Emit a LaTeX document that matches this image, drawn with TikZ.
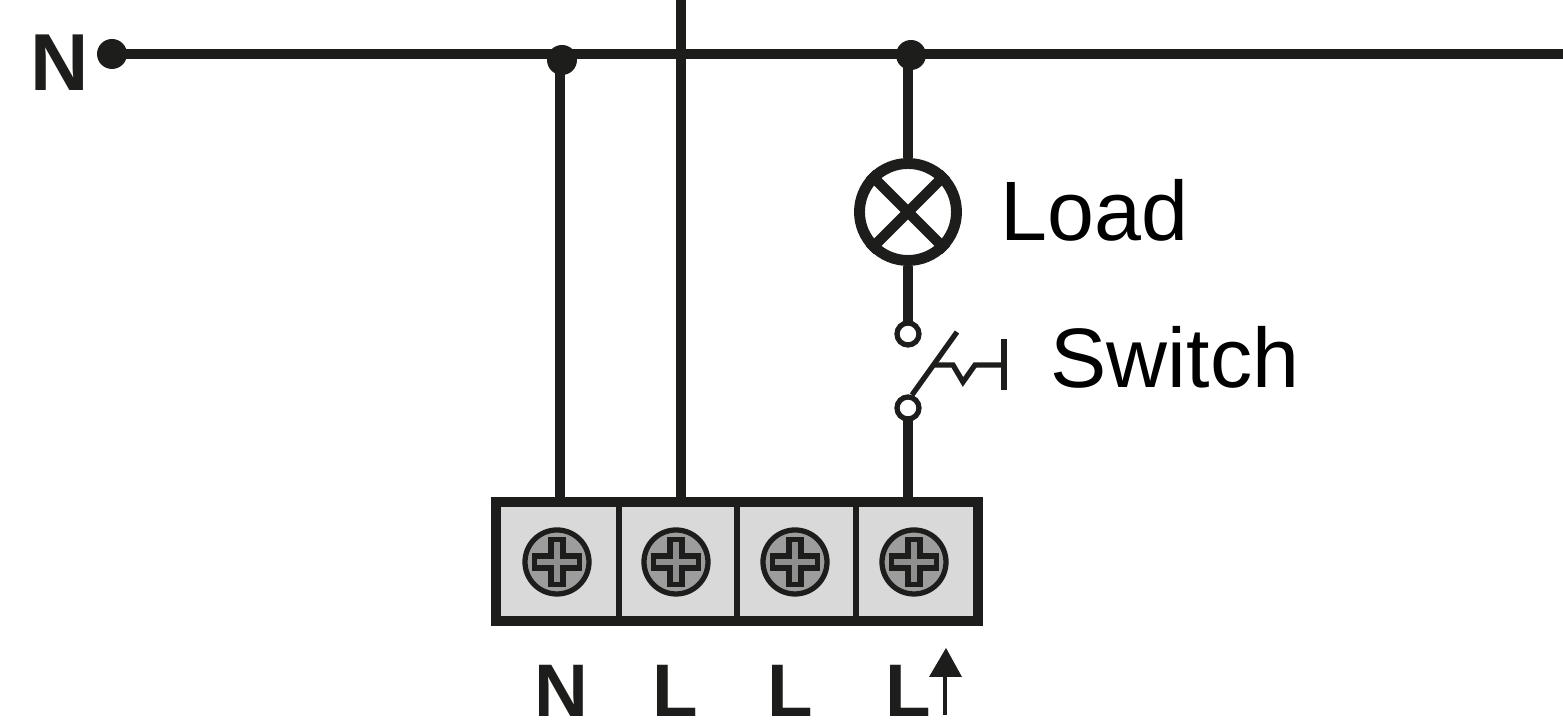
\documentclass[tikz,border=0pt]{standalone}
\usepackage{fontspec}
\setmainfont{Liberation Sans}
\usepackage{tikz}
\usetikzlibrary{positioning}
\definecolor{wirecol}{HTML}{1D1D1B}
\definecolor{cellcol}{HTML}{D9D9D9}
\definecolor{screwcol}{HTML}{9D9D9D}
\definecolor{crosscol}{HTML}{8F8F8F}
\tikzset{
    wire/.style={draw=wirecol, line width=3pt},
    thinwire/.style={draw=wirecol, line width=1.5pt},
    joint/.style={circle, fill=wirecol, inner sep=0pt, outer sep=0pt, minimum size=0.30cm},
    contact/.style={circle, draw=wirecol, fill=white, line width=1.5pt, inner sep=0pt, outer sep=0pt, minimum size=0.22cm},
    screw/.style={circle, draw=wirecol, fill=screwcol, line width=1.5pt, inner sep=0pt, minimum size=0.64cm},
    biglabel/.style={anchor=base west, inner sep=0pt, text=black, font=\fontsize{24pt}{26pt}\selectfont},
    termlabel/.style={anchor=base west, inner sep=0pt, text=wirecol, font=\fontsize{21.2pt}{24pt}\selectfont\bfseries}
}
\begin{document}
\begin{tikzpicture}
    \useasboundingbox (0,0) rectangle (15.63,7.28);

    % Terminal block
    \draw[wire, fill=cellcol] (4.96,1.07) rectangle (9.78,2.26);
    \foreach \name/\x in {a/6.19, b/7.37, c/8.56} {
        \coordinate (div\name top) at (\x,2.26);
        \coordinate (div\name bot) at (\x,1.07);
        \draw[thinwire] (div\name top) -- (div\name bot);
    }

    % Screws
    \foreach \name/\x in {a/5.57, b/6.76, c/7.95, d/9.14} {
        \node[screw] (screw\name) at (\x,1.66) {};
        \draw[draw=wirecol, line width=1.5pt, fill=crosscol, shift={(\x,1.66)}]
            (-0.06,0.225) -- (0.06,0.225) -- (0.06,0.06) -- (0.225,0.06) -- (0.225,-0.06)
            -- (0.06,-0.06) -- (0.06,-0.225) -- (-0.06,-0.225) -- (-0.06,-0.06)
            -- (-0.225,-0.06) -- (-0.225,0.06) -- (-0.06,0.06) -- cycle;
    }

    % Bus and feeds
    \node[joint] (nstart) at (1.12,6.74) {};
    \node[joint] (njoint) at (5.62,6.68) {};
    \node[joint] (ljoint) at (9.11,6.73) {};
    \coordinate (busend) at (15.63,6.74);
    \coordinate (ntop) at (5.60,6.68);
    \coordinate (nbot) at (5.60,2.30);
    \coordinate (ltop) at (6.81,7.28);
    \coordinate (lbot) at (6.81,2.30);
    \coordinate (loadtop) at (9.08,6.73);
    \coordinate (swbot) at (9.08,2.30);
    \draw[wire] (nstart.center) -- (busend);
    \draw[wire] (ntop) -- (nbot);
    \draw[wire] (ltop) -- (lbot);

    % Lamp
    \node[circle, draw=wirecol, line width=3.1pt, inner sep=0pt, minimum size=0.97cm] (lamp) at (9.08,5.16) {};
    \draw[wire] (lamp.45) -- (lamp.225);
    \draw[wire] (lamp.135) -- (lamp.315);
    \draw[wire] (loadtop) -- (lamp.north);

    % Switch
    \node[contact] (contup) at (9.08,3.94) {};
    \node[contact] (contdown) at (9.08,3.20) {};
    \draw[wire] (lamp.south) -- (contup.north);
    \draw[wire] (contdown.south) -- (swbot);
    \coordinate (armstart) at (9.12,3.33);
    \coordinate (armend) at (9.57,3.96);
    \coordinate (zigstart) at (9.35,3.63);
    \coordinate (zigend) at (10.04,3.63);
    \coordinate (bartop) at (10.04,3.89);
    \coordinate (barbot) at (10.04,3.38);
    \draw[thinwire] (armstart) -- (armend);
    \draw[thinwire] (zigstart) -- (9.53,3.63) -- (9.63,3.46) -- (9.75,3.63) -- (zigend);
    \draw[thinwire] (bartop) -- (barbot);

    % Arrow
    \coordinate (arrowfoot) at (9.45,0.13);
    \coordinate (arrowhead) at (9.45,0.55);
    \fill[wirecol] (9.46,0.80) -- (9.29,0.51) -- (9.62,0.51) -- cycle;
    \draw[draw=wirecol, line width=0.9pt] (arrowfoot) -- (arrowhead);

    % Labels
    \node[biglabel, text=wirecol, font=\fontsize{23pt}{26pt}\selectfont\bfseries] (busn) at (0.30,6.37) {N};
    \node[biglabel] (loadtxt) at (10.00,4.87) {Load};
    \node[biglabel] (switchtxt) at (10.50,3.40) {Switch};
    \node[termlabel] (termn) at (5.34,0.11) {N};
    \node[termlabel] (terml) at (6.52,0.11) {L};
    \node[termlabel] (termll) at (7.67,0.11) {L};
    \node[termlabel] (termlll) at (8.85,0.11) {L};
\end{tikzpicture}
\end{document}
